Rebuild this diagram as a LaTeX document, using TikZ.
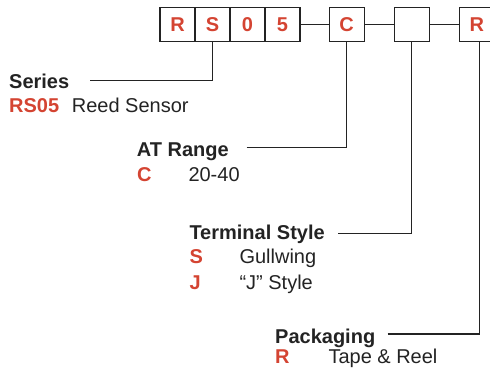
\documentclass[tikz,border=0pt]{standalone}
\usepackage{fontspec}
\setmainfont{Liberation Sans}
\definecolor{codered}{RGB}{212,68,50}
\definecolor{ink}{RGB}{35,35,35}
\begin{document}
\begin{tikzpicture}[x=1bp,y=-1bp,
  codebox/.style={draw=ink,line width=1.1bp,minimum width=35bp,minimum height=34.5bp,inner sep=0pt,
    font=\fontsize{20bp}{22bp}\selectfont\bfseries,text=codered},
  lead/.style={draw=ink,line width=1.1bp},
  head/.style={anchor=base west,inner sep=0pt,font=\fontsize{20bp}{22bp}\selectfont\bfseries,text=ink},
  key/.style={anchor=base west,inner sep=0pt,font=\fontsize{20bp}{22bp}\selectfont\bfseries,text=codered},
  desc/.style={anchor=base west,inner sep=0pt,font=\fontsize{20bp}{22bp}\selectfont,text=ink}]
\useasboundingbox (0,0) rectangle (490,372);
% code boxes
\node[codebox] (b1) at (177.5,24.5) {R};
\node[codebox] (b2) at (212.5,24.5) {S};
\node[codebox] (b3) at (247.5,24.5) {0};
\node[codebox] (b4) at (282.5,24.5) {5};
\node[codebox] (bc) at (346.7,24.5) {C};
\node[codebox] (be) at (411.8,24.5) {};
\node[codebox] (br) at (476.8,24.5) {R};
\draw[lead] (b4.east) -- (bc.west);
\draw[lead] (bc.east) -- (be.west);
\draw[lead] (be.east) -- (br.west);
% Series
\node[head] (series) at (9,88.3) {Series};
\node[key] (rs05) at (9,112.7) {RS05};
\node[desc] (reed) at (71.7,112.7) {Reed Sensor};
\coordinate (s1) at (90,80.7);
\draw[lead] (s1) -| (b2.south);
% AT Range
\node[head] (at) at (136.7,156) {AT Range};
\node[key] (kc) at (137,181) {C};
\node[desc] (range) at (188.3,181) {20-40};
\coordinate (s2) at (246.7,147.7);
\draw[lead] (s2) -| (bc.south);
% Terminal Style
\node[head] (term) at (189.3,239.3) {Terminal Style};
\node[key] (ks) at (189.3,263.3) {S};
\node[desc] (gull) at (239.3,263.3) {Gullwing};
\node[key] (kj) at (189.3,289) {J};
\node[desc] (jst) at (239.3,289) {“J” Style};
\coordinate (s3) at (338.3,233.3);
\draw[lead] (s3) -| (be.south);
% Packaging
\node[head] (pack) at (275,343.3) {Packaging};
\node[key] (kr) at (275,363.3) {R};
\node[desc] (tape) at (328.3,363.3) {Tape \& Reel};
\coordinate (s4) at (387.7,334);
\coordinate (s4b) at (479.3,334);
\draw[lead] (s4) -- (s4b) -- (s4b |- br.south);
\end{tikzpicture}
\end{document}
